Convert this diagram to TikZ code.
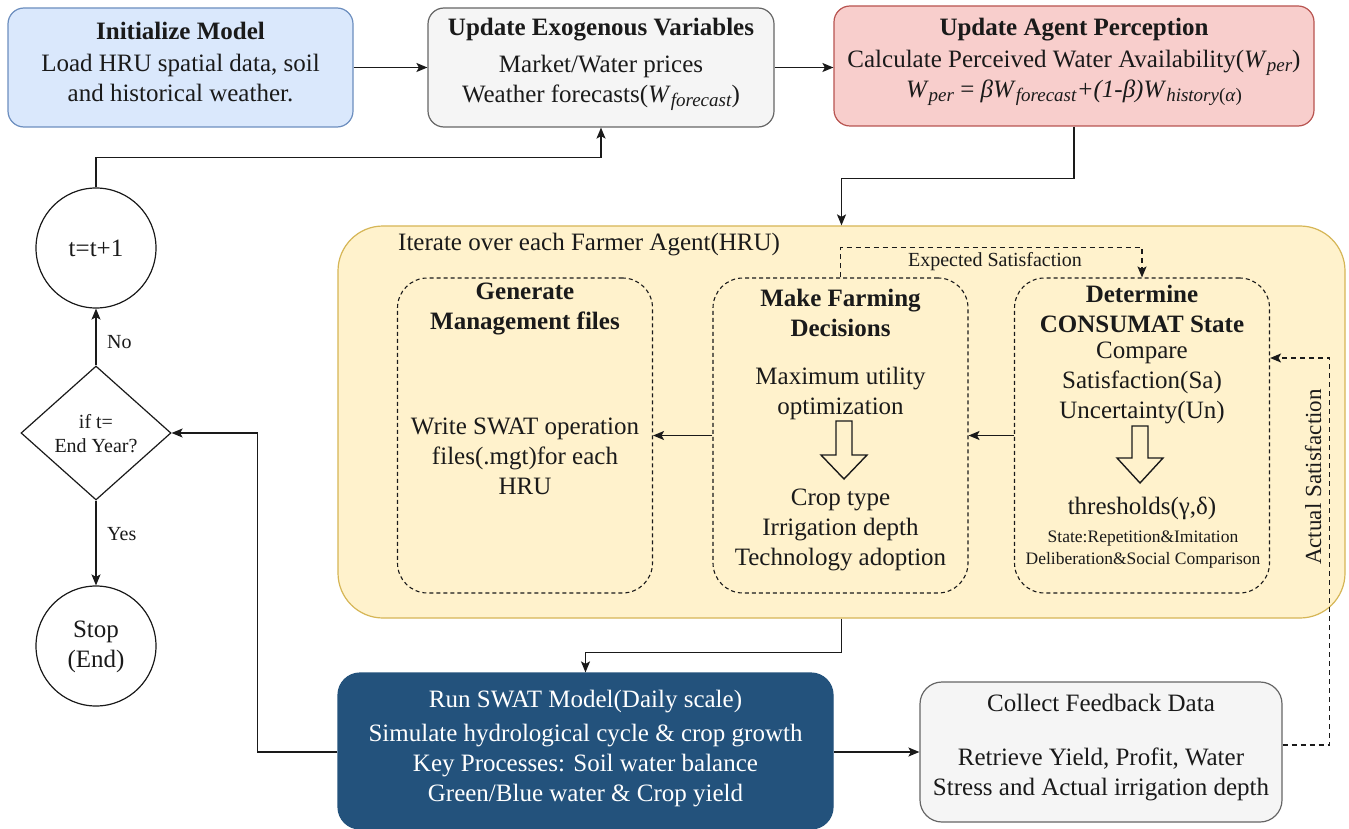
\documentclass[tikz,border=0pt]{standalone}
\usepackage{fontspec}
\setmainfont{Liberation Serif}
\usetikzlibrary{arrows.meta,shapes.geometric,calc}
\definecolor{initfill}{HTML}{DAE8FC}
\definecolor{initline}{HTML}{6C8EBF}
\definecolor{greyfill}{HTML}{F5F5F5}
\definecolor{greyline}{HTML}{666666}
\definecolor{redfill}{HTML}{F8CECC}
\definecolor{redline}{HTML}{B85450}
\definecolor{yelfill}{HTML}{FFF2CC}
\definecolor{yelline}{HTML}{D6B656}
\definecolor{swatfill}{HTML}{23527C}
\definecolor{inkc}{HTML}{1A1A1A}
\newcommand\mysub[1]{\raisebox{-0.35ex}{\fontsize{19}{19}\selectfont #1}}
\begin{document}
\begin{tikzpicture}[x=1pt,y=-1pt,
  box/.style={draw, rounded corners=16pt, line width=1.2pt, inner sep=0pt},
  dbox/.style={draw=inkc, rounded corners=30pt, line width=1.1pt, dash pattern=on 4pt off 3pt, inner sep=0pt, minimum width=255pt, minimum height=315pt},
  txt/.style={font=\fontsize{25}{30}\selectfont, align=center, inner sep=0pt, text=inkc},
  hd/.style={txt, font=\fontsize{25}{30}\selectfont\bfseries},
  sm/.style={txt, font=\fontsize{20}{24}\selectfont},
  tiny/.style={txt, font=\fontsize{17.5}{22}\selectfont},
  conn/.style={draw=inkc, line width=1.5pt, -{Stealth[length=11pt,width=9pt,inset=2.5pt]}},
  dconn/.style={conn, dash pattern=on 5pt off 4pt},
  hollow/.style={draw=inkc, line width=1.4pt, line join=miter}
]
\useasboundingbox (0,0) rectangle (1349,829);
\fill[white] (0,0) rectangle (1349,829);

% ---- top row ----
\node[box, fill=initfill, draw=initline, minimum width=345pt, minimum height=119pt] (init) at (180.5,67.5) {};
\node[hd] (initH) at (180.5,30.5) {Initialize Model};
\node[txt] (initB) at (180.5,78) {Load HRU spatial data, soil\\and historical weather.};

\node[box, fill=greyfill, draw=greyline, minimum width=346pt, minimum height=119pt] (exog) at (601,67.5) {};
\node[hd] (exogH) at (601,29.5) {Update Exogenous Variables};
\node[txt] (exogB) at (601,83) {Market/Water prices\\Weather forecasts(\textit{W}\mysub{\textit{forecast}})};

\node[box, fill=redfill, draw=redline, minimum width=480pt, minimum height=120pt] (perc) at (1074,66) {};
\node[hd] (percH) at (1074,30) {Update Agent Perception};
\node[txt] (percB) at (1074,78) {Calculate Perceived Water Availability(\textit{W}\mysub{\textit{per}})\\
  \textit{W}\mysub{\textit{per}} = \textit{βW}\mysub{\textit{forecast}}\textit{+(1-β)W}\mysub{\textit{history}(\textit{α})}};

% ---- left column ----
\node[draw=inkc, circle, line width=1.2pt, minimum size=120pt, inner sep=0pt] (inc) at (96,248) {};
\node[txt] (incT) at (96,248) {t=t+1};
\node[draw=inkc, diamond, line width=1.2pt, minimum width=150pt, minimum height=134pt, inner sep=0pt] (dec) at (96,433) {};
\node[sm] (decT) at (96,434) {if t=\\End Year?};
\node[draw=inkc, circle, line width=1.2pt, minimum size=120pt, inner sep=0pt] (stop) at (96,646) {};
\node[txt] (stopT) at (96,647) {Stop\\(End)};
\node[sm, anchor=west] (noL) at (107,342) {No};
\node[sm, anchor=west] (yesL) at (107,534) {Yes};

% ---- yellow container ----
\node[box, rounded corners=45pt, fill=yelfill, draw=yelline, minimum width=1007pt, minimum height=392pt] (agent) at (841.5,422) {};
\node[txt, anchor=west] (agentL) at (398,245) {Iterate over each Farmer Agent(HRU)};

\node[dbox] (gen) at (525,435.5) {};
\node[hd] (genH) at (525,309) {Generate\\Management files};
\node[txt] (genB) at (525,456) {Write SWAT operation\\files(.mgt)for each\\HRU};

\node[dbox] (make) at (840.5,435.5) {};
\node[hd] (makeH) at (840.5,312.5) {Make Farming\\Decisions};
\node[txt] (makeB1) at (840.5,393) {Maximum utility\\optimization};
\node[txt] (makeB2) at (840.5,530) {Crop type\\Irrigation depth\\Technology adoption};
\draw[hollow] (836,421) -- (852,421) -- (852,455) -- (867,455) -- (844,479) -- (821,455) -- (836,455) -- cycle;

\node[dbox] (det) at (1142,435.5) {};
\node[hd] (detH) at (1142,309) {Determine\\CONSUMAT State};
\node[txt] (detB1) at (1142,383) {Compare\\Satisfaction(Sa)\\Uncertainty(Un)};
\node[txt] (detB2) at (1142,508) {thresholds(γ,δ)};
\node[tiny] (detB3) at (1143,550) {State:Repetition\&Imitation\\Deliberation\&Social Comparison};
\draw[hollow] (1132,426) -- (1148,426) -- (1148,458) -- (1163,458) -- (1140,483) -- (1117,458) -- (1132,458) -- cycle;

% ---- bottom row ----
\node[box, rounded corners=22pt, fill=swatfill, draw=swatfill, minimum width=495pt, minimum height=156pt] (swat) at (585.5,751) {};
\node[txt, text=white] (swatH) at (585.5,702) {Run SWAT Model(Daily scale)};
\node[txt, text=white] (swatB) at (585.5,766) {Simulate hydrological cycle \& crop growth\\Key Processes: Soil water balance\\Green/Blue water \& Crop yield};

\node[box, rounded corners=22pt, fill=greyfill, draw=greyline, minimum width=362pt, minimum height=140pt] (coll) at (1101,752) {};
\node[txt] (collH) at (1101,703) {Collect Feedback Data};
\node[txt] (collB) at (1101,774) {Retrieve Yield, Profit, Water\\Stress and Actual irrigation depth};

% ---- connectors ----
\draw[conn] (init.east) -- (exog.west);
\draw[conn] (exog.east) -- (perc.west |- exog.east);
\draw[conn] (perc.south) -- ++(0,52) -| (agent.north);
\draw[conn] (agent.south) -- ++(0,34) -| (swat.north);
\draw[conn] (swat.east |- coll.west) -- (coll.west);
\draw[conn] (swat.west |- coll.west) -- ++(-80,0) |- (dec.east);
\draw[conn] (dec.north) -- (inc.south);
\draw[conn] (dec.south) -- (stop.north);
\draw[conn] (inc.north) -- ++(0,-30) -| (exog.south);
\draw[conn] (det.west) -- (make.east);
\draw[conn] (make.west) -- (gen.east);

\draw[dconn] (make.north) -- ++(0,-30) -| (det.north);
\node[sm] (expL) at (995,262) {Expected Satisfaction};

\coordinate (actin) at (det.east |- 0,358);
\draw[dconn] ([yshift=7pt]coll.east) -- ++(47,0) |- (actin);
\node[txt, font=\fontsize{23}{28}\selectfont, rotate=90] (actL) at (1313,477) {Actual Satisfaction};
\end{tikzpicture}
\end{document}
